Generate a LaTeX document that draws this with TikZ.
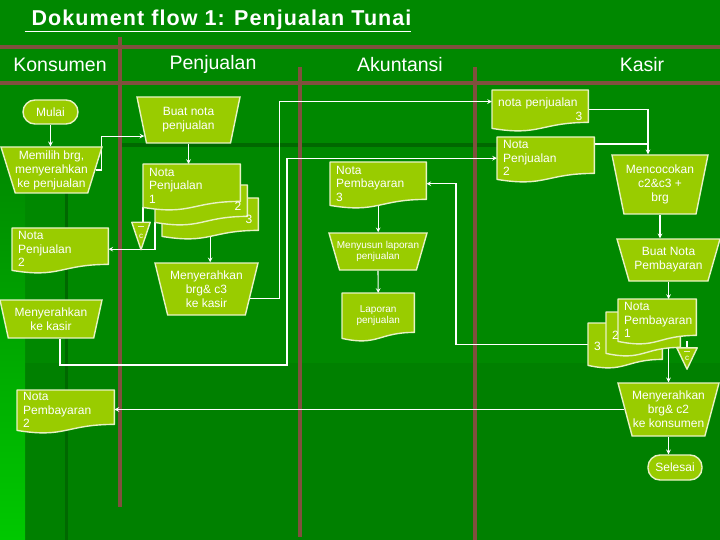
\documentclass[tikz,border=0pt]{standalone}
\usepackage{fontspec}
\setmainfont{Liberation Sans}
\setsansfont{Liberation Sans}
\newfontfamily\titlefont[LetterSpace=5]{Liberation Sans}
\usepackage{xcolor}
\usepackage{tikz}
\usetikzlibrary{shapes.geometric, calc}

\definecolor{bggreen}{RGB}{0,136,0}
\definecolor{bglow}{RGB}{0,128,0}
\definecolor{bglite}{RGB}{0,200,0}
\definecolor{bgdark}{RGB}{0,104,0}
\definecolor{lanebrown}{RGB}{128,80,62}
\definecolor{shapefill}{RGB}{153,204,0}
\definecolor{shapeline}{RGB}{232,242,196}

\pgfdeclarelayer{bg}
\pgfdeclarelayer{lines}
\pgfdeclarelayer{shapes}
\pgfsetlayers{bg,lines,shapes,main}

% document symbol behind a named node
\newcommand{\docshape}[1]{%
  \begin{pgfonlayer}{shapes}
    \filldraw[docfill] (#1.north west) -- (#1.north east) -- ($(#1.south east)+(0,-6)$)
      .. controls ($(#1.south)+(0,-6)$) and ($(#1.south)+(0,8)$) .. (#1.south west) -- cycle;
  \end{pgfonlayer}}
% file symbol (triangle)
\newcommand{\fileshape}[1]{%
  \begin{pgfonlayer}{shapes}
    \filldraw[docfill] (#1.north west) -- (#1.north east) -- (#1.south) -- cycle;
    \draw[shapeline, line width=1.2pt] ($(#1.north west)!0.35!(#1.north east)+(0,4)$) -- ($(#1.north west)!0.65!(#1.north east)+(0,4)$);
  \end{pgfonlayer}}

\begin{document}
\begin{tikzpicture}[x=1pt, y=-1pt, >=stealth,
    every node/.style={text=white, font=\sffamily},
    flow/.style={draw=white, line width=1.1pt},
    lane/.style={draw=lanebrown, line width=3.5pt},
    docfill/.style={fill=shapefill, draw=shapeline, line width=1.4pt, line join=round},
    header/.style={font=\fontsize{19.5}{22}\selectfont},
    manop/.style={trapezium, shape border rotate=180, trapezium stretches body,
      fill=shapefill, draw=shapeline, line width=1.4pt, inner xsep=0pt, inner ysep=0pt,
      align=center, font=\fontsize{12}{14}\selectfont},
    docbox/.style={anchor=north west, minimum width=#1, text width=#1-12, inner xsep=6pt,
      inner ysep=0pt, align=left, font=\fontsize{12}{13.5}\selectfont},
    termin/.style={rectangle, rounded corners=12pt, fill=shapefill, draw=shapeline,
      line width=1.4pt, minimum width=55, minimum height=24, font=\fontsize{12}{14}\selectfont},
    filebox/.style={rectangle, minimum width=18, minimum height=27, inner sep=0pt,
      font=\fontsize{8}{9}\selectfont}]
    \useasboundingbox (0,0) rectangle (720,540);

    % Background and lanes
    \begin{pgfonlayer}{bg}
        \fill[bggreen] (0,0) rectangle (720,540);
        \fill[bglow] (25,363) rectangle (720,540);
        \shade[top color=bggreen, bottom color=bglite] (0,150) rectangle (25,540);
        \fill[bgdark] (65,193) rectangle (68,540);
        \fill[bgdark] (120,143) rectangle (500,147);
        \draw[lane] (0,47) -- (720,47);
        \draw[lane] (0,83) -- (720,83);
        \draw[lane] (120,37) -- (120,507);
        \draw[lane] (300,67) -- (300,537);
        \draw[lane] (475,67) -- (475,540);
    \end{pgfonlayer}

    % Title and lane headers
    \node[font=\titlefont\bfseries\fontsize{21.5}{24}\selectfont] (title) at (218,21) {\underline{\ Dokument flow 1: Penjualan Tunai}};
    \node[header] (hKons) at (60,65) {Konsumen};
    \node[header] (hPenj) at (213,64) {Penjualan};
    \node[header] (hAkun) at (400,65) {Akuntansi};
    \node[header] (hKasir) at (642,65) {Kasir};

    % Konsumen
    \node[termin] (mulai) at (50.5,112) {Mulai};
    \node[manop, minimum width=101, minimum height=46, trapezium angle=70, inner xsep=-3pt] (memilih) at (51.5,170) {Memilih brg,\\menyerahkan\\ke penjualan};
    \node[docbox=96, minimum height=42] (notaPenj2) at (12,228) {Nota\\Penjualan\\2}; \docshape{notaPenj2}
    \node[manop, minimum width=102, minimum height=38, trapezium angle=70] (keKasir) at (51,319) {Menyerahkan\\ke kasir};
    \node[docbox=97, minimum height=40] (notaPemb2) at (17,390) {Nota\\Pembayaran\\2}; \docshape{notaPemb2}

    % Penjualan
    \node[manop, minimum width=103, minimum height=46, trapezium angle=69] (buatNota) at (188.5,120) {Buat nota\\penjualan};
    \node[docbox=96, minimum height=38] (np3) at (162,198) {\mbox{}\\\mbox{}\hfill 3}; \docshape{np3}
    \node[docbox=92, minimum height=37] (np2) at (155,185) {\mbox{}\\\mbox{}\hfill 2}; \docshape{np2}
    \node[docbox=97, minimum height=43] (np1) at (143,164) {Nota\\Penjualan\\1}; \docshape{np1}
    \node[filebox] (fileC1) at (141,236) {c}; \fileshape{fileC1}
    \node[manop, minimum width=103, minimum height=52, trapezium angle=71, inner xsep=-3pt] (serahC3) at (206.5,289) {Menyerahkan\\brg\& c3\\ke kasir};

    % Akuntansi
    \node[docbox=96, minimum height=43] (notaPemb3) at (330,162) {Nota\\Pembayaran\\3}; \docshape{notaPemb3}
    \node[manop, minimum width=98, minimum height=37, trapezium angle=63, inner xsep=-11pt, font=\fontsize{10}{11.5}\selectfont] (menyusun) at (378,251.5) {Menyusun laporan\\penjualan};
    \node[docbox=72, minimum height=45, align=center, font=\fontsize{10}{11.5}\selectfont] (laporan) at (342,293) {Laporan\\penjualan}; \docshape{laporan}

    % Kasir
    \node[docbox=96, minimum height=38] (notaPenj3) at (492,90) {nota penjualan\\\mbox{}\hfill 3}; \docshape{notaPenj3}
    \node[docbox=97, minimum height=42] (notaPenj2k) at (497,137) {Nota\\Penjualan\\2}; \docshape{notaPenj2k}
    \node[manop, minimum width=96, minimum height=59, trapezium angle=73, inner xsep=-4pt] (mencocokan) at (660,184.5) {Mencocokan\\c2\&c3 +\\brg};
    \node[manop, minimum width=103, minimum height=42, trapezium angle=64, inner xsep=-3pt] (buatNotaPemb) at (668.5,260) {Buat Nota\\Pembayaran};
    \node[docbox=74, minimum height=42] (npb3) at (588,323) {\mbox{}\\3}; \docshape{npb3}
    \node[docbox=74, minimum height=41] (npb2) at (606,312) {\mbox{}\\2}; \docshape{npb2}
    \node[docbox=78, minimum height=42] (npb1) at (618,299) {Nota\\Pembayaran\\1}; \docshape{npb1}
    \node[filebox, minimum height=21, minimum width=20] (fileC2) at (687,358.5) {c}; \fileshape{fileC2}
    \node[manop, minimum width=101, minimum height=53, trapezium angle=69, inner xsep=-6pt] (serahC2) at (668.5,409.5) {Menyerahkan\\brg\& c2\\ke konsumen};
    \node[termin, minimum width=54, minimum height=25] (selesai) at (675,467.5) {Selesai};

    % Connectors
    \coordinate (turnK) at (287,365);
    \coordinate (turnA) at (456,0);
    \begin{pgfonlayer}{lines}
        \draw[flow, ->] (mulai.south) -- (mulai.south |- memilih.north);
        \draw[flow, ->] (memilih.east) -- ++(6,0) |- (buatNota.200);
        \draw[flow, ->] (buatNota.south) -- (buatNota.south |- np1.north);
        \draw[flow] (np1.south west) -- (np1.south west |- fileC1.north);
        \draw[flow, ->] (np2.south west) |- (notaPenj2.east);
        \draw[flow, ->] (np3.south) -- (np3.south |- serahC3.north);
        \draw[flow, ->] (serahC3.-12) -- ++(29,0) |- ($(notaPenj3.north west)!0.3!(notaPenj3.south west)$);
        \draw[flow, ->] ($(keKasir.south)+(9,0)$) |- (turnK) |- (notaPenj2k.west);
        \draw[flow, ->] (notaPenj3.east) -| ($(mencocokan.north)+(-12,0)$);
        \draw[flow] ($(notaPenj2k.north east)+(0,7)$) -- ++(54,0);
        \draw[flow, ->] (mencocokan.south) -- (mencocokan.south |- buatNotaPemb.north);
        \draw[flow, ->] (buatNotaPemb.south) -- (buatNotaPemb.south |- npb1.north);
        \draw[flow, ->] (npb1.south -| serahC2.north) -- (serahC2.north);
        \draw[flow] (npb1.south -| fileC2.north) -- (fileC2.north);
        \draw[flow, ->] (npb3.west) -- (npb3.west -| turnA) |- (notaPemb3.east);
        \draw[flow, ->] (notaPemb3.south) -- (notaPemb3.south |- menyusun.north);
        \draw[flow, ->] (menyusun.south) -- (laporan.north);
        \draw[flow, ->] (serahC2.west) -- (serahC2.west -| notaPemb2.east);
        \draw[flow, ->] (serahC2.south) -- (serahC2.south |- selesai.north);
    \end{pgfonlayer}
\end{tikzpicture}
\end{document}
